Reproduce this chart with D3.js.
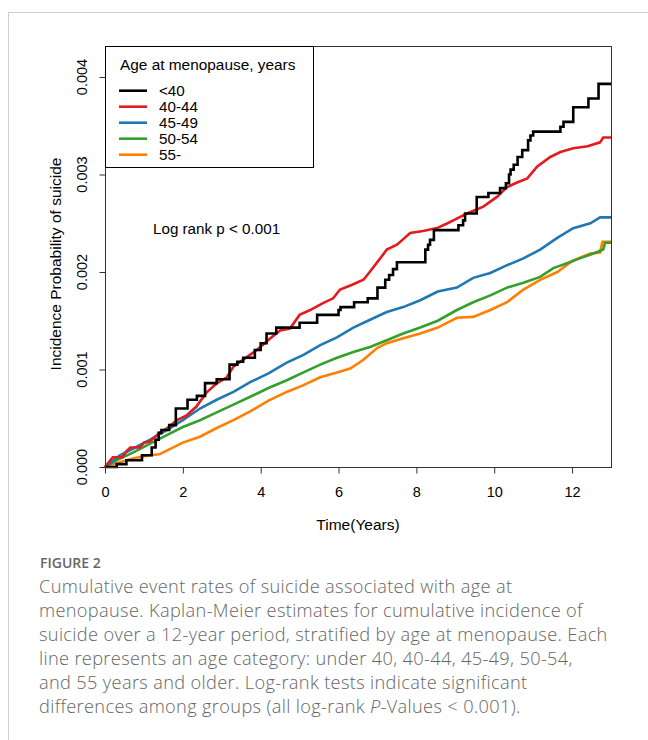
<!DOCTYPE html>
<html>
<head>
<meta charset="utf-8">
<script src="https://cdn.jsdelivr.net/npm/d3@7"></script>
<style>
  body { margin: 0; background: #fff; }
  svg { display: block; }
</style>
</head>
<body>
<div id="chart"></div>
<script>
// Groups and colours
const groups = ["<40", "40-44", "45-49", "50-54", "55-"];
const groupColors = ["#000000", "#e41a1c", "#1f78b4", "#33a02c", "#ff7f00"];

// Axis ticks
const yearTicks = [0, 2, 4, 6, 8, 10, 12];
const probTicks = [0, 0.001, 0.002, 0.003, 0.004];

// Cumulative incidence: [years, probability x 1000]
const curveLt40 = [[0,0],[0.3,0.03],[0.55,0.07],[0.95,0.12],[1.2,0.2],[1.3,0.28],[1.38,0.35],[1.45,0.38],
  [1.65,0.43],[1.82,0.6],[2.12,0.69],[2.36,0.73],[2.57,0.86],[2.87,0.9],[3.2,1.05],[3.4,1.08],[3.55,1.12],
  [3.85,1.2],[4.0,1.27],[4.15,1.37],[4.4,1.43],[5.0,1.48],[5.45,1.56],[6.0,1.61],[6.05,1.64],[6.4,1.69],
  [6.75,1.73],[7.0,1.84],[7.2,1.92],[7.3,1.97],[7.4,2.03],[7.5,2.1],[8.23,2.23],[8.3,2.28],[8.35,2.33],
  [8.45,2.43],[9.08,2.48],[9.2,2.53],[9.25,2.6],[9.55,2.77],[9.85,2.81],[10.15,2.86],[10.3,2.91],[10.38,3.0],
  [10.42,3.05],[10.5,3.1],[10.6,3.18],[10.72,3.25],[10.87,3.35],[10.93,3.4],[11.0,3.44],[11.7,3.49],
  [11.78,3.54],[12.03,3.69],[12.42,3.78],[12.68,3.93],[13,3.93]];
const curve40to44 = [[0,0],[0.1,0.05],[0.2,0.1],[0.45,0.1],[0.55,0.16],[0.65,0.2],[0.9,0.2],[1.0,0.25],
  [1.15,0.26],[1.4,0.35],[1.6,0.4],[1.85,0.48],[2.1,0.53],[2.35,0.62],[2.6,0.76],[2.88,0.86],[3.13,0.92],
  [3.3,1.03],[3.65,1.13],[3.9,1.2],[4.25,1.32],[4.5,1.4],[4.75,1.42],[5.0,1.56],[5.27,1.61],[5.6,1.68],
  [5.86,1.73],[6.04,1.82],[6.35,1.87],[6.64,1.92],[6.8,2.0],[7.07,2.14],[7.24,2.23],[7.5,2.28],[7.7,2.35],
  [7.84,2.4],[8.17,2.42],[8.53,2.45],[8.8,2.5],[8.95,2.53],[9.3,2.6],[9.72,2.67],[10.07,2.77],[10.33,2.87],
  [10.6,2.92],[10.85,2.96],[11.1,3.08],[11.44,3.18],[11.7,3.23],[12.03,3.27],[12.4,3.29],[12.72,3.33],
  [12.8,3.38],[13,3.38]];
const curve45to49 = [[0,0],[0.38,0.12],[0.73,0.19],[1.16,0.28],[1.6,0.38],[2.0,0.48],[2.44,0.6],[2.87,0.69],
  [3.3,0.77],[3.73,0.87],[4.2,0.96],[4.67,1.07],[5.1,1.15],[5.53,1.25],[5.96,1.33],[6.38,1.43],[6.81,1.51],
  [7.24,1.59],[7.66,1.64],[8.1,1.71],[8.55,1.8],[9.04,1.84],[9.46,1.94],[9.9,1.99],[10.33,2.07],[10.75,2.14],
  [11.18,2.23],[11.62,2.35],[12.03,2.45],[12.47,2.5],[12.72,2.56],[13,2.56]];
const curve50to54 = [[0,0],[0.3,0.07],[0.73,0.15],[1.16,0.24],[1.6,0.33],[2.0,0.41],[2.44,0.48],[2.87,0.56],
  [3.3,0.64],[3.73,0.72],[4.2,0.81],[4.67,0.89],[5.1,0.97],[5.53,1.05],[5.96,1.12],[6.38,1.18],[6.81,1.23],
  [7.24,1.3],[7.66,1.37],[8.1,1.43],[8.55,1.5],[9.04,1.61],[9.46,1.69],[9.9,1.76],[10.33,1.84],[10.75,1.89],
  [11.18,1.95],[11.52,2.04],[11.87,2.09],[12.2,2.14],[12.55,2.19],[12.8,2.23],[12.85,2.3],[13,2.3]];
const curve55plus = [[0,0],[0.38,0.05],[0.73,0.09],[1.16,0.12],[1.4,0.13],[1.6,0.17],[2.0,0.25],[2.44,0.31],
  [2.87,0.4],[3.3,0.48],[3.73,0.57],[4.2,0.68],[4.67,0.77],[5.1,0.84],[5.53,0.92],[5.96,0.97],[6.3,1.01],
  [6.64,1.1],[6.99,1.22],[7.24,1.27],[7.66,1.32],[8.1,1.37],[8.55,1.43],[9.04,1.53],[9.46,1.54],[9.9,1.61],
  [10.33,1.69],[10.75,1.82],[11.18,1.92],[11.62,2.0],[12.03,2.12],[12.47,2.19],[12.72,2.2],[12.78,2.31],[13,2.31]];

const allCurves = [curveLt40, curve40to44, curve45to49, curve50to54, curve55plus];

const captionLines = [
  "Cumulative event rates of suicide associated with age at",
  "menopause. Kaplan-Meier estimates for cumulative incidence of",
  "suicide over a 12-year period, stratified by age at menopause. Each",
  "line represents an age category: under 40, 40-44, 45-49, 50-54,",
  "and 55 years and older. Log-rank tests indicate significant",
  "differences among groups (all log-rank <i>P</i>-Values < 0.001)."
];

// Set up the page
var W = 648, H = 740;
var plotFont = "'Liberation Sans', Arial, Helvetica, sans-serif";

var svg = d3.select("#chart")
  .append("svg")
    .attr("width", W)
    .attr("height", H);

// Light frame of the figure panel
svg.append("path")
  .attr("d", "M8.5," + H + "V12.5H" + W)
  .attr("fill", "none")
  .attr("stroke", "#cfcfcf")
  .attr("stroke-width", 1);

// Scales
var x = d3.scaleLinear().domain([0, 13]).range([105, 611]);
var y = d3.scaleLinear().domain([0, 0.004318]).range([467, 46]);

// Curves
var line = d3.line()
  .x(d => x(d[0]))
  .y(d => y(d[1] / 1000));

svg.append("g")
  .selectAll("path")
  .data(allCurves.slice().reverse())
  .enter()
  .append("path")
    .attr("d", (d, i) => (i === allCurves.length - 1 ? line.curve(d3.curveStepAfter) : line.curve(d3.curveLinear))(d))
    .attr("fill", "none")
    .attr("stroke", (d, i) => groupColors[allCurves.length - 1 - i])
    .attr("stroke-width", 2.6)
    .attr("stroke-linejoin", "miter");

// Box around plot
svg.append("rect")
  .attr("x", 105.5).attr("y", 46.5)
  .attr("width", 611 - 105).attr("height", 467 - 46)
  .attr("fill", "none")
  .attr("stroke", "#333")
  .attr("stroke-width", 1);

// X axis
var xAxis = svg.append("g")
  .attr("transform", "translate(0,467.5)")
  .call(d3.axisBottom(x).tickValues(yearTicks).tickSize(6).tickPadding(13).tickSizeOuter(0));
xAxis.select(".domain").remove();
xAxis.selectAll("line").attr("stroke", "#333");
xAxis.selectAll("text")
  .style("font-family", plotFont)
  .style("font-size", "14.5px")
  .attr("fill", "#000");

// Y axis (labels parallel to axis)
var yAxis = svg.append("g")
  .attr("transform", "translate(105.5,0)")
  .call(d3.axisLeft(y).tickValues(probTicks).tickSize(6).tickFormat(() => "").tickSizeOuter(0));
yAxis.select(".domain").remove();
yAxis.selectAll("line").attr("stroke", "#333");

svg.append("g")
  .selectAll("text")
  .data(probTicks)
  .enter()
  .append("text")
    .attr("transform", d => "translate(87," + y(d) + ") rotate(-90)")
    .attr("text-anchor", "middle")
    .style("font-family", plotFont)
    .style("font-size", "14.5px")
    .text(d => d3.format(".3f")(d));

// Axis titles
svg.append("text")
  .attr("x", 358).attr("y", 530)
  .attr("text-anchor", "middle")
  .style("font-family", plotFont)
  .style("font-size", "15.5px")
  .text("Time(Years)");

svg.append("text")
  .attr("transform", "translate(61,264) rotate(-90)")
  .attr("text-anchor", "middle")
  .style("font-family", plotFont)
  .style("font-size", "15.5px")
  .text("Incidence Probability of suicide");

// Legend
var legend = svg.append("g");
legend.append("rect")
  .attr("x", 105.5).attr("y", 46.5)
  .attr("width", 208).attr("height", 121)
  .attr("fill", "#fff")
  .attr("stroke", "#000");
legend.append("text")
  .attr("x", 120).attr("y", 70)
  .style("font-family", plotFont)
  .style("font-size", "15.4px")
  .text("Age at menopause, years");

var item = legend.selectAll(".item")
  .data(groups)
  .enter()
  .append("g")
    .attr("class", "item")
    .attr("transform", (d, i) => "translate(0," + (90.7 + i * 16) + ")");
item.append("line")
  .attr("x1", 119).attr("x2", 147)
  .attr("stroke", (d, i) => groupColors[i])
  .attr("stroke-width", 2.6);
item.append("text")
  .attr("x", 159).attr("y", 0)
  .attr("dy", "0.36em")
  .style("font-family", plotFont)
  .style("font-size", "15.2px")
  .text(d => d);

svg.append("text")
  .attr("x", 153).attr("y", 229)
  .attr("dy", "0.36em")
  .style("font-family", plotFont)
  .style("font-size", "15.2px")
  .text("Log rank p < 0.001");

// Caption
var capFont = "'Open Sans', 'Noto Sans', sans-serif";
svg.append("text")
  .attr("x", 40).attr("y", 568)
  .style("font-family", capFont)
  .style("font-size", "14px")
  .style("font-weight", 600)
  .attr("fill", "#666")
  .text("FIGURE 2");

svg.append("g")
  .selectAll("text")
  .data(captionLines)
  .enter()
  .append("text")
    .attr("x", 39)
    .attr("y", (d, i) => 593.3 + i * 23.9)
    .style("font-family", capFont)
    .style("font-size", "18.2px")
    .style("font-weight", 300)
    .style("letter-spacing", "0.35px")
    .attr("fill", "#666")
    .html(d => d.replace("<i>", "<tspan font-style='italic'>").replace("</i>", "</tspan>").replace(" < 0.001", " &lt; 0.001"));
</script>
</body>
</html>
